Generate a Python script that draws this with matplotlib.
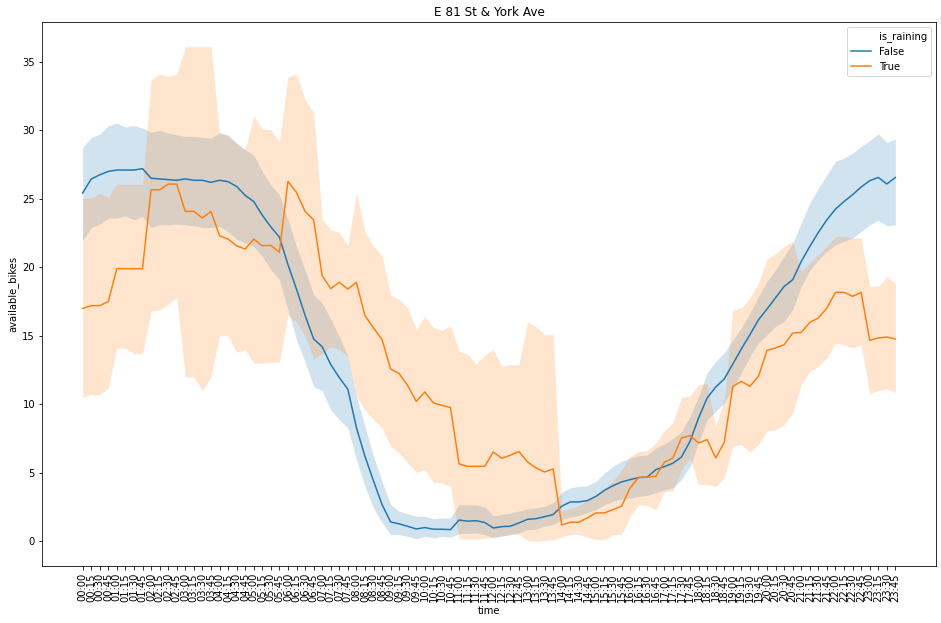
import numpy as np
import matplotlib
matplotlib.use("Agg")
import matplotlib.pyplot as plt
from matplotlib.lines import Line2D

# time of day, 15 min steps
times = ["%02d:%02d" % (h, m) for h in range(24) for m in (0, 15, 30, 45)]

# is_raining == False
dry_mean = [25.42, 26.44, 26.75, 27.0, 27.1, 27.1, 27.1, 27.2, 26.5, 26.45, 26.4, 26.35, 26.45, 26.35, 26.35, 26.2,
            26.35, 26.25, 25.9, 25.25, 24.8, 23.8, 22.95, 22.2, 20.2, 18.4, 16.5, 14.77, 14.2, 12.9, 11.95, 11.1,
            8.3, 6.2, 4.4, 2.68, 1.41, 1.27, 1.09, 0.9, 1.0, 0.88, 0.88, 0.85, 1.55, 1.47, 1.5, 1.37,
            0.97, 1.07, 1.1, 1.34, 1.6, 1.65, 1.8, 1.95, 2.56, 2.87, 2.87, 2.97, 3.28, 3.72, 4.06, 4.33,
            4.5, 4.65, 4.68, 5.23, 5.45, 5.7, 6.15, 7.3, 9.0, 10.46, 11.26, 11.85, 12.94, 14.04, 15.08, 16.17,
            16.95, 17.78, 18.6, 19.09, 20.43, 21.52, 22.55, 23.47, 24.25, 24.8, 25.3, 25.86, 26.32, 26.56, 26.08, 26.56]
dry_hi = [28.75, 29.48, 29.72, 30.33, 30.53, 30.23, 30.35, 30.16, 29.85, 30.0, 29.8, 29.67, 29.55, 29.55, 29.5, 29.43,
          29.8, 29.67, 29.07, 28.58, 28.2, 27.0, 26.0, 25.3, 23.5, 21.5, 19.8, 18.0, 17.4, 16.2, 14.96, 13.5,
          10.58, 8.4, 6.2, 4.38, 2.68, 2.19, 2.0, 1.82, 1.82, 1.63, 1.7, 1.7, 2.68, 2.65, 2.65, 2.5,
          1.87, 1.95, 2.07, 2.2, 2.36, 2.43, 2.56, 2.8, 3.58, 3.9, 4.0, 4.06, 4.38, 4.99, 5.47, 5.84,
          6.08, 6.25, 6.3, 6.8, 7.1, 7.5, 8.0, 9.12, 10.58, 12.29, 13.13, 13.75, 14.7, 15.57, 16.66, 17.88,
          18.97, 19.82, 20.8, 21.77, 23.23, 24.69, 25.78, 26.75, 27.73, 27.97, 28.34, 28.82, 29.26, 29.75, 29.11, 29.36]
dry_lo = [21.94, 22.9, 23.15, 23.6, 23.6, 23.76, 23.47, 23.7, 22.9, 23.1, 23.1, 23.15, 23.1, 23.03, 22.9, 22.9,
          22.98, 22.6, 22.06, 21.77, 21.52, 20.8, 19.82, 19.1, 16.9, 14.7, 13.1, 11.3, 11.0, 9.6, 8.88, 8.27,
          5.96, 4.0, 2.43, 1.34, 0.49, 0.49, 0.36, 0.17, 0.36, 0.24, 0.36, 0.3, 0.55, 0.58, 0.6, 0.49,
          0.24, 0.36, 0.49, 0.61, 0.85, 0.9, 1.1, 1.22, 1.58, 1.78, 1.87, 2.07, 2.31, 2.68, 2.92, 3.09,
          3.14, 3.28, 3.35, 3.55, 3.75, 3.9, 4.5, 5.47, 7.18, 8.88, 9.48, 10.1, 11.19, 12.29, 13.5, 14.47,
          15.08, 15.69, 16.05, 16.9, 18.6, 19.8, 20.55, 21.16, 21.65, 21.89, 22.13, 22.62, 23.1, 23.42, 23.03, 23.1]

# is_raining == True
rain_mean = [17.0, 17.2, 17.2, 17.5, 19.9, 19.9, 19.9, 19.9, 25.66, 25.66, 26.07, 26.07, 24.08, 24.08, 23.6, 24.08,
             22.3, 22.06, 21.57, 21.33, 22.06, 21.57, 21.6, 21.1, 26.27, 25.46, 24.08, 23.47, 19.39, 18.44, 18.9, 18.41,
             18.9, 16.47, 15.57, 14.72, 12.58, 12.24, 11.36, 10.21, 10.9, 10.1, 9.92, 9.76, 5.65, 5.47, 5.47, 5.47,
             6.52, 6.06, 6.28, 6.55, 5.79, 5.35, 5.06, 5.28, 1.19, 1.39, 1.39, 1.71, 2.07, 2.07, 2.31, 2.56,
             3.9, 4.67, 4.67, 4.74, 5.77, 6.08, 7.54, 7.71, 7.18, 7.42, 6.08, 7.22, 11.31, 11.67, 11.31, 12.04,
             13.94, 14.11, 14.35, 15.2, 15.25, 15.98, 16.3, 17.03, 18.17, 18.17, 17.88, 18.17, 14.67, 14.84, 14.91, 14.77]
rain_hi = [25.05, 25.05, 25.42, 25.1, 26.07, 26.07, 26.07, 26.07, 33.69, 34.1, 33.93, 34.1, 36.1, 36.1, 36.1, 36.1,
           29.85, 29.55, 29.0, 28.6, 31.06, 30.09, 30.05, 29.15, 33.9, 34.1, 32.23, 31.3, 23.52, 22.74, 22.55, 21.57,
           25.49, 22.62, 21.52, 20.84, 18.0, 17.65, 17.03, 15.5, 16.42, 15.62, 15.4, 15.74, 13.86, 13.66, 12.92, 13.6,
           13.99, 12.77, 12.9, 12.9, 15.98, 15.69, 15.08, 15.08, 2.2, 2.4, 2.6, 3.0, 3.4, 3.9, 4.4, 5.2,
           6.2, 6.57, 6.6, 7.18, 8.03, 8.68, 10.5, 10.63, 11.43, 11.5, 8.39, 10.34, 16.86, 17.03, 17.76, 18.85,
           20.6, 20.99, 21.52, 21.89, 19.7, 20.31, 20.92, 21.52, 22.25, 22.25, 22.13, 22.13, 18.6, 18.6, 19.29, 18.85]
rain_lo = [10.5, 10.7, 10.7, 11.2, 14.1, 14.1, 13.7, 13.7, 16.8, 16.9, 17.3, 17.8, 12.0, 12.0, 11.0, 12.0,
           15.0, 15.0, 13.8, 14.0, 13.0, 13.0, 13.06, 13.06, 16.5, 16.0, 15.0, 13.3, 13.7, 14.2, 14.0, 13.5,
           10.58, 9.6, 8.88, 8.27, 6.93, 6.45, 5.72, 5.04, 5.23, 4.3, 4.26, 4.0, 0.17, 0.17, 0.17, 0.2,
           0.3, 0.4, 0.5, 0.5, 0.05, 0.0, 0.05, 0.1, 0.32, 0.49, 0.49, 0.32, 0.12, 0.12, 0.49, 0.49,
           1.82, 2.68, 2.6, 2.3, 3.6, 3.7, 5.2, 6.08, 4.14, 4.14, 4.01, 4.62, 6.93, 7.06, 6.5, 7.06,
           8.03, 8.15, 8.51, 9.37, 11.43, 12.4, 12.77, 13.38, 14.47, 14.35, 14.11, 14.35, 10.78, 11.0, 11.12, 10.87]

x = np.arange(len(times))

fig = plt.figure(figsize=(941 / 72, 623 / 72), dpi=72)
ax = fig.add_axes([42 / 941, 57 / 623, 894 / 941, 544 / 623])

blue = "#1f77b4"
orange = "#ff7f0e"
ax.fill_between(x, dry_lo, dry_hi, color=blue, alpha=0.2, linewidth=0)
ax.plot(x, dry_mean, color=blue, lw=1.5)
ax.fill_between(x, rain_lo, rain_hi, color=orange, alpha=0.2, linewidth=0)
ax.plot(x, rain_mean, color=orange, lw=1.5)

ax.set_xticks(x)
ax.set_xticklabels(times, rotation=90)
ax.set_xlabel("time")
ax.set_ylabel("available_bikes")
ax.set_title("E 81 St & York Ave")

handles = [Line2D([], [], color="none"),
           Line2D([], [], color=blue, lw=1.5),
           Line2D([], [], color=orange, lw=1.5)]
ax.legend(handles, ["is_raining", "False", "True"], loc="upper right")

fig.savefig("out.png", dpi=72)
